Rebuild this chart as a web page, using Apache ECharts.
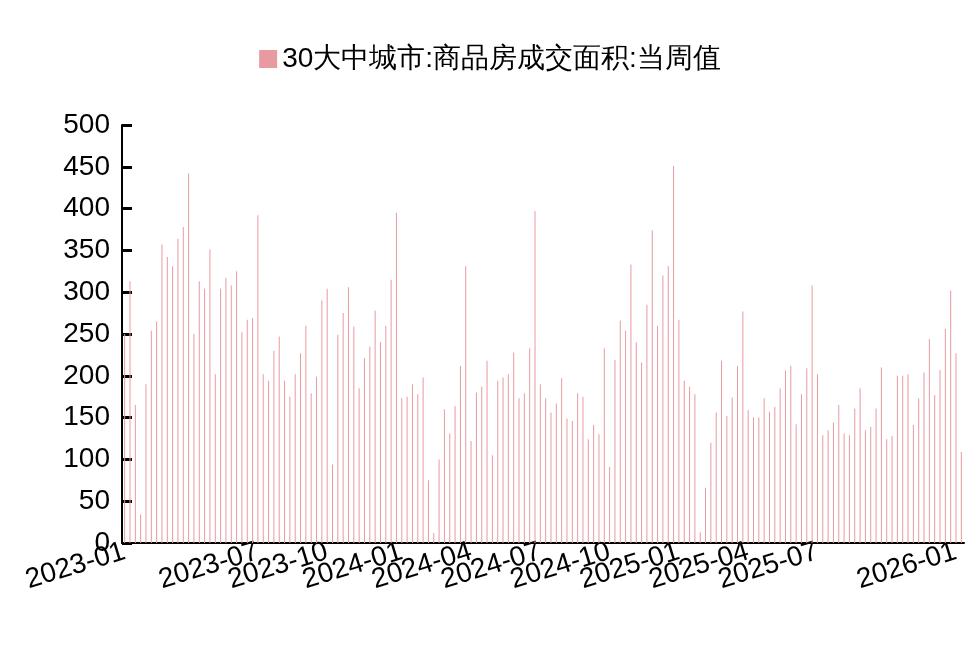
<!DOCTYPE html>
<html><head><meta charset="utf-8">
<script src="https://cdn.jsdelivr.net/npm/echarts@6/dist/echarts.min.js"></script>
<style>html,body{margin:0;padding:0;background:#fff}#c{width:980px;height:667px}</style>
</head><body><div id="c"></div>
<script>
const seriesName = '30大中城市:商品房成交面积:当周值';
const startDate = '2023-01-08';
const values = [
250,313,165,34,190,254,265,357,342,331,364,378,442,250,313,304,351,202,304,317,308,325,252,267,269,392,202,194,230,247,194,175,202,227,260,179,199,290,304,
94,249,275,306,259,185,221,235,278,240,260,315,395,173,175,190,178,198,75,12,100,160,131,164,212,331,122,180,187,218,105,194,198,202,228,173,179,233,397,190,
173,156,167,197,149,146,179,175,124,141,130,233,91,219,266,254,333,240,216,285,374,260,320,331,451,267,194,187,178,13,66,120,156,218,152,174,212,277,159,
150,150,173,157,163,185,206,212,142,178,209,308,202,129,135,144,165,131,129,161,185,135,139,161,210,124,128,200,200,202,141,173,204,244,177,207,256,302,227,109
];
const tickMonths = ['01','04','07','10'];
const yTicks = [0,50,100,150,200,250,300,350,400,450,500];

const categories = [];
let d = new Date(startDate + 'T00:00:00Z');
for (let i = 0; i < values.length; i++) {
  categories.push(d.toISOString().slice(0,10));
  d = new Date(d.getTime() + 7*86400000);
}
const showIdx = new Set();
for (let i = 0; i < categories.length; i++) {
  const ym = categories[i].slice(0,7);
  const prev = i > 0 ? categories[i-1].slice(0,7) : null;
  if (ym !== prev && tickMonths.includes(ym.slice(5))) showIdx.add(i);
}
const chart = echarts.init(document.getElementById('c'));
const font = 'Liberation Sans, Arial, sans-serif';
chart.setOption({
  animation:false,
  legend:{top:40,left:'center',itemWidth:18,itemHeight:18,itemGap:10,
    textStyle:{fontSize:28,color:'#000',fontFamily:font},
    data:[{name:seriesName,icon:'rect'}]},
  grid:{left:122,right:16,top:125,bottom:124,containLabel:false},
  xAxis:{type:'category',data:categories,boundaryGap:true,
    axisLine:{lineStyle:{color:'#000',width:2}},
    axisTick:{inside:true,length:10,lineStyle:{color:'#000',width:3},interval:(i)=>showIdx.has(i)},
    axisLabel:{interval:(i)=>showIdx.has(i),hideOverlap:false,showMinLabel:true,showMaxLabel:true,
      rotate:17,fontSize:28,color:'#000',fontFamily:font,margin:8,
      formatter:(v)=>v.slice(0,7)}},
  yAxis:{type:'value',min:0,max:500,interval:50,
    axisLine:{show:true,lineStyle:{color:'#000',width:2}},
    axisTick:{show:true,inside:true,length:10,lineStyle:{color:'#000',width:3}},
    splitLine:{show:false},
    axisLabel:{fontSize:28,color:'#000',fontFamily:font,margin:12,
      formatter:(v)=>yTicks.includes(v)?String(v):''}},
  series:[{name:seriesName,type:'bar',data:values,barWidth:1,itemStyle:{color:'#e89aa0'}}]
});
</script></body></html>
